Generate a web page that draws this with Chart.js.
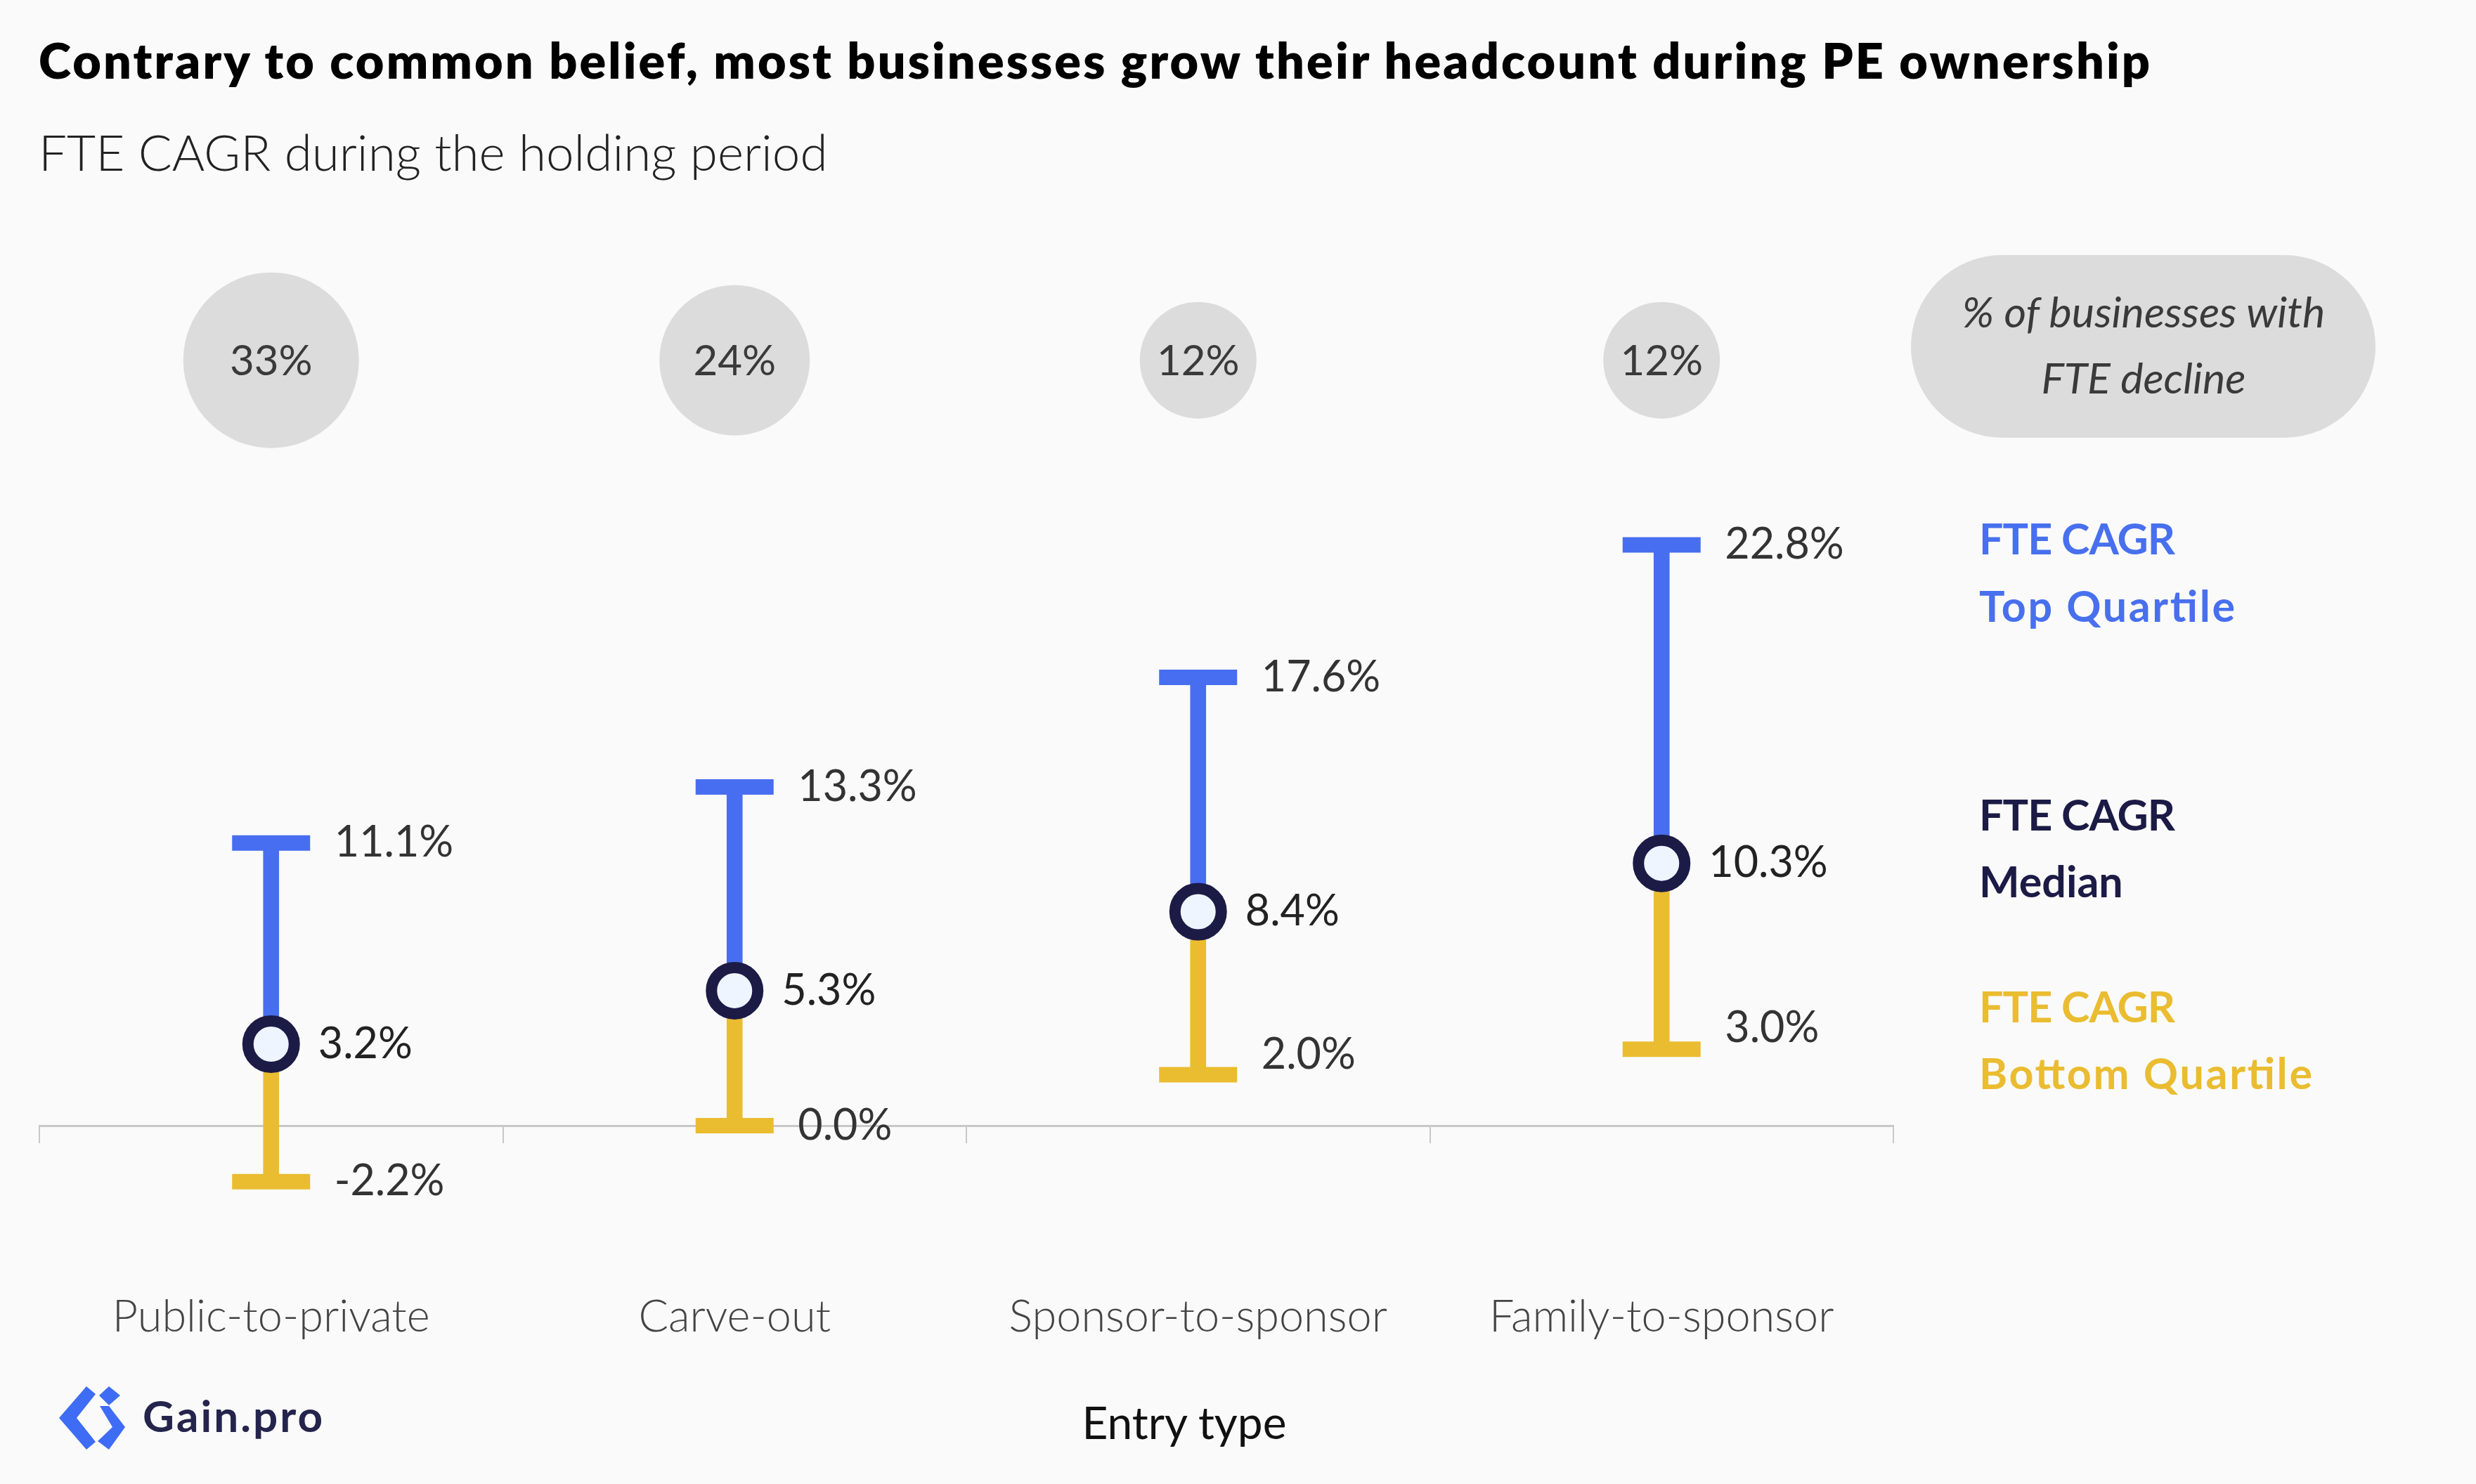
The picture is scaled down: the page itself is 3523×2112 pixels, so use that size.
<!DOCTYPE html>
<html>
<head>
<meta charset="utf-8">
<script src="https://cdn.jsdelivr.net/npm/chart.js@4.4.1/dist/chart.umd.min.js"></script>
<style>
  html, body { margin: 0; padding: 0; background: #fafafa; overflow: hidden; }
  #wrap { position: relative; width: 3523px; height: 2112px; }
  #chart { position: absolute; left: 0; top: 0; }
  #overlay { position: absolute; left: 0; top: 0; pointer-events: none; }
</style>
</head>
<body>
<div id="wrap">
  <canvas id="chart" width="3523" height="2112"></canvas>
  <svg id="overlay" width="3523" height="2112" xmlns="http://www.w3.org/2000/svg" font-family="Lato, 'Noto Sans', sans-serif">
    <text x="55" y="112" font-size="70" font-weight="800" fill="#000" textLength="3004" lengthAdjust="spacing">Contrary to common belief, most businesses grow their headcount during PE ownership</text>
    <text x="55" y="243" font-size="71" font-weight="300" fill="#222">FTE CAGR during the holding period</text>

    <rect x="2719" y="363" width="661" height="260" rx="130" ry="130" fill="#dcdcdc"/>
    <text x="3050" y="466" font-size="61" font-style="italic" fill="#3a3a3a" text-anchor="middle">% of businesses with</text>
    <text x="3050" y="560" font-size="61" font-style="italic" fill="#3a3a3a" text-anchor="middle">FTE decline</text>

    <g font-size="61" font-weight="700">
      <text x="2816" y="789" fill="#4870ee" textLength="279" lengthAdjust="spacing">FTE CAGR</text>
      <text x="2816" y="885" fill="#4870ee" textLength="364" lengthAdjust="spacing">Top Quartile</text>
      <text x="2816" y="1182" fill="#1c1b46" textLength="279" lengthAdjust="spacing">FTE CAGR</text>
      <text x="2816" y="1277" fill="#1c1b46">Median</text>
      <text x="2816" y="1455" fill="#eabc30" textLength="279" lengthAdjust="spacing">FTE CAGR</text>
      <text x="2816" y="1550" fill="#eabc30" textLength="474" lengthAdjust="spacing">Bottom Quartile</text>
    </g>

    <text x="1685" y="2048" font-size="64" fill="#111" text-anchor="middle">Entry type</text>

    <g transform="translate(84,1973)">
      <polygon points="39,0 52,11 25,45 52,79 39,90 0,45" fill="#3f6cf4"/>
      <polygon points="71,0 87,13 71,27 57,13" fill="#3f6cf4"/>
      <polygon points="58,28 71,28 94,58 71,90 55,78 76,58" fill="#3f6cf4"/>
    </g>
    <text x="203" y="2038" font-size="62" font-weight="700" fill="#24244c" textLength="256" lengthAdjust="spacing">Gain.pro</text>
  </svg>
</div>
<script>
// ---------- data ----------
const categories = ['Public-to-private', 'Carve-out', 'Sponsor-to-sponsor', 'Family-to-sponsor'];
const topQuartile = [11.1, 13.3, 17.6, 22.8];
const medianCagr = [3.2, 5.3, 8.4, 10.3];
const bottomQuartile = [-2.2, 0.0, 2.0, 3.0];
const declineShare = [33, 24, 12, 12];

// ---------- styling / layout constants ----------
const BLUE = '#476ef0';
const YELLOW = '#eabc30';
const NAVY = '#1c1b46';
const DECLINE_ROW = 30.05;                 // vertical slot (axis units) for the decline bubbles
const bubbleRadius = v => 59 + 2 * v;       // bubble size from share value
const BOTTOM_LABEL_NUDGE = [0, 0, -28, -30]; // pixel nudge of bottom-quartile labels

const labelPlugin = {
  id: 'valueLabels',
  afterDatasetsDraw(chart) {
    const ctx = chart.ctx;
    const xs = chart.scales.x, ys = chart.scales.y;
    ctx.save();
    ctx.textBaseline = 'middle';
    ctx.textAlign = 'left';
    ctx.font = '400 61px Lato, "Noto Sans", sans-serif';
    categories.forEach((c, i) => {
      const x = xs.getPixelForValue(i);
      ctx.fillStyle = '#333';
      ctx.fillText(topQuartile[i].toFixed(1) + '%', x + 90, ys.getPixelForValue(topQuartile[i]));
      ctx.fillText(bottomQuartile[i].toFixed(1) + '%', x + 90, ys.getPixelForValue(bottomQuartile[i]) + BOTTOM_LABEL_NUDGE[i]);
      ctx.fillStyle = '#222';
      ctx.fillText(medianCagr[i].toFixed(1) + '%', x + 67, ys.getPixelForValue(medianCagr[i]));
    });
    const bubbleMeta = chart.getDatasetMeta(5);
    ctx.textAlign = 'center';
    ctx.fillStyle = '#3a3a3a';
    ctx.font = '400 60px Lato, "Noto Sans", sans-serif';
    bubbleMeta.data.forEach((el, i) => {
      ctx.fillText(declineShare[i] + '%', el.x, el.y + 2);
    });
    ctx.restore();
  }
};

new Chart(document.getElementById('chart'), {
  type: 'bar',
  data: {
    labels: categories,
    datasets: [
      { // 0 median marker
        type: 'line', data: medianCagr, showLine: false, order: 0,
        pointStyle: 'circle', pointRadius: 33, pointHoverRadius: 33,
        pointBorderWidth: 16, pointBorderColor: NAVY, pointBackgroundColor: '#eef5ff'
      },
      { // 1 top cap
        type: 'line', data: topQuartile, showLine: false, order: 1,
        pointStyle: 'line', pointRadius: 55.5, pointHoverRadius: 55.5,
        pointBorderWidth: 22, pointBorderColor: BLUE, pointBackgroundColor: BLUE
      },
      { // 2 bottom cap
        type: 'line', data: bottomQuartile, showLine: false, order: 1,
        pointStyle: 'line', pointRadius: 55.5, pointHoverRadius: 55.5,
        pointBorderWidth: 22, pointBorderColor: YELLOW, pointBackgroundColor: YELLOW
      },
      { // 3 median -> top quartile stem
        type: 'bar', data: medianCagr.map((m, i) => [m, topQuartile[i]]), order: 2,
        backgroundColor: BLUE, barThickness: 22, grouped: false, borderWidth: 0
      },
      { // 4 bottom quartile -> median stem
        type: 'bar', data: medianCagr.map((m, i) => [bottomQuartile[i], m]), order: 2,
        backgroundColor: YELLOW, barThickness: 22, grouped: false, borderWidth: 0
      },
      { // 5 share of businesses with FTE decline
        type: 'bubble', order: 3,
        data: categories.map((c, i) => ({ x: c, y: DECLINE_ROW, r: bubbleRadius(declineShare[i]) })),
        backgroundColor: '#dcdcdc', borderWidth: 0, hoverRadius: 0
      }
    ]
  },
  options: {
    responsive: false,
    animation: false,
    events: [],
    layout: { autoPadding: false, padding: { left: 56, right: 829, top: 333.25, bottom: 147.5 } },
    plugins: { legend: { display: false }, tooltip: { enabled: false } },
    scales: {
      x: {
        type: 'category',
        position: { y: 0 },
        offset: true,
        afterFit: s => { s.height = 0; s.paddingLeft = 0; s.paddingRight = 0; },
        grid: { display: true, drawOnChartArea: false, drawTicks: true, tickLength: 23, offset: true, color: '#c8c8c8', lineWidth: 2 },
        border: { display: true, color: '#c8c8c8', width: 3 },
        ticks: { padding: 212, color: '#444', font: { family: 'Lato, "Noto Sans", sans-serif', size: 63, weight: '300' } }
      },
      y: { display: false, min: -10, max: 35 }
    }
  },
  plugins: [labelPlugin]
});
</script>
</body>
</html>
